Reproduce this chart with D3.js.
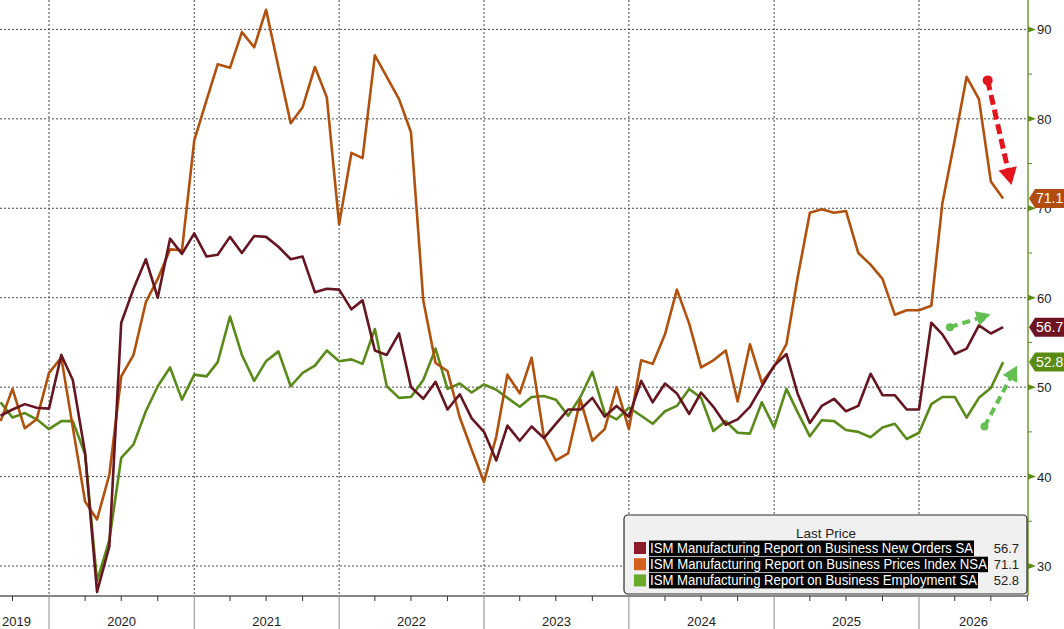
<!DOCTYPE html>
<html>
<head>
<meta charset="utf-8">
<script src="https://cdn.jsdelivr.net/npm/d3@7"></script>
<style>
body{margin:0;background:#fff;}
svg{display:block;font-family:"Liberation Sans",Arial,sans-serif;}
</style>
</head>
<body>
<script>
// monthly readings, first point = Sep 2019 (k=-4), last = Aug 2026 (k=79)
var firstK = -4;
var newOrders = [46.8,47.5,48.1,47.7,47.6,53.6,50.8,42.6,27.1,32.2,
	57.2,61.0,64.3,60.0,66.6,64.9,67.2,64.6,64.8,66.8,
	65.0,66.9,66.8,65.7,64.3,64.6,60.6,61.0,60.9,58.7,
	59.7,54.1,53.6,56.0,50.0,48.7,50.6,47.5,49.2,46.5,
	45.0,41.8,45.7,44.0,45.6,44.3,45.9,47.5,47.5,48.8,
	46.7,47.9,46.7,50.7,48.3,50.4,49.3,47.0,49.4,47.8,
	45.8,46.4,47.8,50.1,52.4,53.7,49.3,46.0,47.9,48.7,
	47.3,47.9,51.5,49.1,49.1,47.5,47.5,57.2,55.9,53.7,
	54.3,56.9,56.0,56.7];
var prices = [46.2,49.8,45.4,46.4,51.6,53.3,45.5,37.2,35.2,40.2,
	51.2,53.6,59.5,62.1,65.4,65.3,77.6,82.1,86.1,85.7,
	89.7,88.0,92.2,85.8,79.5,81.3,85.8,82.4,68.2,76.2,
	75.6,87.1,84.7,82.2,78.5,59.7,52.7,51.8,46.6,43.0,
	39.4,44.5,51.4,49.3,53.3,44.4,41.8,42.6,48.6,44.0,
	45.3,50.0,45.3,53.0,52.6,55.9,60.9,57.1,52.2,53.0,
	54.1,48.4,54.8,50.5,52.3,54.8,62.2,69.5,69.9,69.5,
	69.7,65.0,63.7,62.1,58.1,58.6,58.6,59.1,70.6,77.6,
	84.7,82.2,73.0,71.1];
var employment = [48.3,46.6,47.1,46.4,45.3,46.2,46.2,42.5,28.3,32.9,
	42.1,43.6,47.3,50.1,52.2,48.6,51.4,51.2,52.8,57.9,
	53.6,50.7,52.9,54.0,50.1,51.6,52.4,54.1,52.9,53.1,
	52.6,56.5,50.1,48.8,48.9,50.8,54.3,49.8,50.4,49.4,
	50.3,49.7,48.8,47.8,48.9,49.0,48.6,46.8,48.9,51.7,
	47.1,46.4,47.7,46.8,45.9,47.3,47.9,49.8,48.8,45.1,
	46.2,44.9,44.8,48.3,45.5,49.8,47.2,44.5,46.3,46.2,
	45.2,45.0,44.4,45.5,45.9,44.2,44.9,48.1,48.9,48.9,
	46.6,48.8,49.9,52.8];

var seriesNames = ["ISM Manufacturing Report on Business New Orders SA",
	"ISM Manufacturing Report on Business Prices Index NSA",
	"ISM Manufacturing Report on Business Employment SA"];
var lastValues = ["56.7","71.1","52.8"];
var yTicks = [30,40,50,60,70,80,90];
var yMinor = [35,45,55,65,75,85];
var years = [2019,2020,2021,2022,2023,2024,2025,2026];

// annotation arrows [month index, value]
var redArrow = [[77.76,84.3],[79.7,72.6]];
var greenArrow1 = [[74.64,56.7],[77.98,58.15]];
var greenArrow2 = [[77.48,45.6],[80.16,52.4]];

var lineCol = ["#661620","#b0510e","#5a8b1a"];
var keyCol = ["#8c1c2c","#d2611c","#6aaa28"];
var tagCol = ["#6e1421","#b04c0d","#5a8c14"];

var W = 1064, H = 629;
var plotL = -16, plotR = 1028, plotT = 0, plotB = 596;

function kDate(k){
	var m = Math.floor(k);
	return new Date(2020, m, 1 + (k - m) * 30);
}

var x = d3.scaleTime()
	.domain([new Date(2020,0,1), new Date(2026,0,1)])
	.range([49, 919]);
var y = d3.scaleLinear().domain([30,90]).range([566,29.4]);

var svg = d3.select("body").append("svg").attr("width",W).attr("height",H);

svg.append("defs").append("clipPath").attr("id","plot")
	.append("rect").attr("x",plotL).attr("y",plotT)
	.attr("width",plotR-plotL).attr("height",plotB-plotT);

// grid
var yearStarts = d3.timeYear.range(new Date(2020,0,1), new Date(2026,1,1));
svg.append("g").selectAll("line").data(yTicks).enter().append("line")
	.attr("x1",0).attr("x2",plotR)
	.attr("y1",function(d){return y(d);}).attr("y2",function(d){return y(d);})
	.attr("stroke","#4a4a4a").attr("stroke-width",1).attr("stroke-dasharray","2,2");
svg.append("g").selectAll("line").data(yearStarts).enter().append("line")
	.attr("x1",function(d){return x(d);}).attr("x2",function(d){return x(d);})
	.attr("y1",plotT).attr("y2",plotB)
	.attr("stroke","#4a4a4a").attr("stroke-width",1).attr("stroke-dasharray","2,2");

// series
var all = [newOrders, prices, employment].map(function(arr){
	return arr.map(function(v,i){ return {date:kDate(firstK+i), v:v}; });
});
var lineGen = d3.line().x(function(d){return x(d.date);}).y(function(d){return y(d.v);});
var lines = svg.append("g").attr("clip-path","url(#plot)");
[2,1,0].forEach(function(i){
	lines.append("path").datum(all[i])
		.attr("d",lineGen).attr("fill","none")
		.attr("stroke",lineCol[i]).attr("stroke-width",2.6)
		.attr("stroke-linejoin","round");
});

// x axis
var xAxis = svg.append("g").attr("transform","translate(0,"+plotB+")");
xAxis.append("line").attr("x1",0).attr("x2",plotR).attr("stroke","#111").attr("stroke-width",1.2);
var quarters = d3.timeMonth.every(3).range(new Date(2019,6,1), new Date(2026,11,1))
	.filter(function(d){ return d.getMonth() != 0 && x(d) > 0 && x(d) <= plotR; });
xAxis.selectAll(".q").data(quarters).enter().append("line")
	.attr("x1",function(d){return x(d);}).attr("x2",function(d){return x(d);})
	.attr("y1",0).attr("y2",5).attr("stroke","#333");
xAxis.selectAll(".yb").data(yearStarts).enter().append("line")
	.attr("x1",function(d){return x(d);}).attr("x2",function(d){return x(d);})
	.attr("y1",0).attr("y2",H-plotB).attr("stroke","#8a8a8a");
xAxis.selectAll("text").data(years).enter().append("text")
	.attr("x",function(d){
		var a = Math.max(plotL, x(new Date(d,0,1))), b = Math.min(plotR, x(new Date(d+1,0,1)));
		return (a+b)/2;
	})
	.attr("y",30).attr("text-anchor","middle")
	.attr("font-size",13).attr("fill","#222")
	.text(function(d){return d;});

// right axis
var yAxis = svg.append("g");
yAxis.append("line").attr("x1",plotR).attr("x2",plotR).attr("y1",0).attr("y2",plotB)
	.attr("stroke","#5b8c14").attr("stroke-width",1.3);
yAxis.selectAll(".tri").data(yTicks).enter().append("path")
	.attr("d",function(d){ var v=y(d); return "M"+plotR+","+(v-3)+"L"+(plotR+8)+","+v+"L"+plotR+","+(v+3)+"Z"; })
	.attr("fill","#5b8c14");
yAxis.selectAll(".mn").data(yMinor).enter().append("line")
	.attr("x1",plotR).attr("x2",plotR+4)
	.attr("y1",function(d){return y(d);}).attr("y2",function(d){return y(d);})
	.attr("stroke","#5b8c14");
yAxis.selectAll("text").data(yTicks).enter().append("text")
	.attr("x",plotR+9).attr("y",function(d){return y(d)+5;})
	.attr("font-size",13).attr("fill","#222")
	.text(function(d){return d;});

// last value tags
var lastNums = [newOrders[newOrders.length-1], prices[prices.length-1], employment[employment.length-1]];
lastNums.forEach(function(v,i){
	var cy = y(v);
	var g = svg.append("g");
	g.append("path")
		.attr("d","M"+(plotR+1)+","+cy+"L"+(plotR+7)+","+(cy-9.5)+"L"+W+","+(cy-9.5)+"L"+W+","+(cy+9.5)+"L"+(plotR+7)+","+(cy+9.5)+"Z")
		.attr("fill",tagCol[i]);
	g.append("text").attr("x",plotR+8).attr("y",cy+5)
		.attr("font-size",14).attr("fill","#fff").text(lastValues[i]);
});

// arrows
function arrow(a, color, w, head, dash){
	var x1 = x(kDate(a[0][0])), y1 = y(a[0][1]);
	var x2 = x(kDate(a[1][0])), y2 = y(a[1][1]);
	var dx = x2-x1, dy = y2-y1, L = Math.hypot(dx,dy), ux = dx/L, uy = dy/L;
	var bx = x2-ux*head, by = y2-uy*head, hw = head*0.55;
	var g = svg.append("g");
	g.append("line").attr("x1",x1).attr("y1",y1).attr("x2",bx+ux*2).attr("y2",by+uy*2)
		.attr("stroke",color).attr("stroke-width",w).attr("stroke-dasharray",dash);
	g.append("path")
		.attr("d","M"+x2+","+y2+"L"+(bx-uy*hw)+","+(by+ux*hw)+"L"+(bx+uy*hw)+","+(by-ux*hw)+"Z")
		.attr("fill",color);
	g.append("circle").attr("cx",x1).attr("cy",y1).attr("r",w).attr("fill",color);
}
arrow(redArrow,"#e3141e",5,17,"10,5");
arrow(greenArrow1,"#62c050",4,14,"8,5");
arrow(greenArrow2,"#62c050",4,15,"8,5");

// legend
var lg = svg.append("g");
lg.append("rect").attr("x",624).attr("y",515).attr("width",403).attr("height",79).attr("rx",4)
	.attr("fill","#f0f0f0").attr("stroke","#2a2a2a").attr("stroke-width",1.2);
lg.append("text").attr("x",826).attr("y",537.5).attr("text-anchor","middle")
	.attr("font-size",13.5).attr("fill","#222").text("Last Price");
var textW = [325,339,329];
seriesNames.forEach(function(n,i){
	var cy = 548 + i*16.2;
	lg.append("rect").attr("x",634).attr("y",cy-6).attr("width",12).attr("height",12).attr("fill",keyCol[i]);
	lg.append("rect").attr("x",649).attr("y",cy-7.5).attr("width",textW[i]).attr("height",15.5).attr("fill","#000");
	lg.append("text").attr("x",650).attr("y",cy+5).attr("font-size",14)
		.attr("textLength",textW[i]-2).attr("lengthAdjust","spacingAndGlyphs")
		.attr("fill","#fff").text(n);
	lg.append("text").attr("x",1019).attr("y",cy+4.5).attr("text-anchor","end")
		.attr("font-size",13).attr("fill","#222").text(lastValues[i]);
});
</script>
</body>
</html>
